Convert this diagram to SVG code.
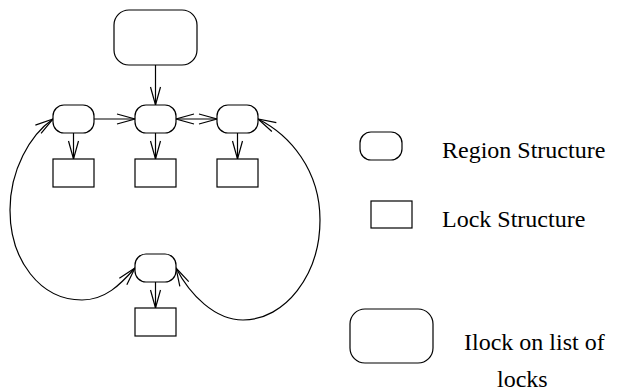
<svg xmlns="http://www.w3.org/2000/svg" width="619" height="392" viewBox="0 0 619 392">
<style>
.n{fill:#fff;stroke:#000;stroke-width:1.2}
.c{fill:none;stroke:#000;stroke-width:1.2}
.t{font-family:"Liberation Serif","Times New Roman",serif;font-size:24px;fill:#000}
</style>
<defs>
<marker id="a" markerUnits="userSpaceOnUse" markerWidth="22" markerHeight="14" refX="18" refY="5" orient="auto" overflow="visible">
<path d="M0,0 L18,5 L0,10" fill="none" stroke="#000" stroke-width="1.2"/>
</marker>
<marker id="as" markerUnits="userSpaceOnUse" markerWidth="22" markerHeight="14" refX="0" refY="5" orient="auto" overflow="visible">
<path d="M18,0 L0,5 L18,10" fill="none" stroke="#000" stroke-width="1.2"/>
</marker>
</defs>
<rect width="619" height="392" fill="#fff"/>
<g id="connectors">
<path class="c" d="M155.5,65 L155.5,105" marker-end="url(#a)"/>
<path class="c" d="M94,119 L135,119" marker-end="url(#a)"/>
<path class="c" d="M176,119 L217,119" marker-start="url(#as)" marker-end="url(#a)"/>
<path class="c" d="M73.5,133 L73.5,159" marker-end="url(#a)"/>
<path class="c" d="M155.5,133 L155.5,159" marker-end="url(#a)"/>
<path class="c" d="M237.5,133 L237.5,159" marker-end="url(#a)"/>
<path class="c" d="M155.5,282 L155.5,308" marker-end="url(#a)"/>
<path class="c" d="M53,119 C30,135 10,170 10,210 C10,260 40,300 82,300 C105,300 120,285 135,268" marker-start="url(#as)" marker-end="url(#a)"/>
<path class="c" d="M258,119 C290,135 320,170 320,220 C320,275 285,320 243,320 C215,320 190,295 176,268" marker-start="url(#as)" marker-end="url(#a)"/>
</g>
<g id="ilock"><rect class="n" x="114" y="10" width="83" height="55" rx="15"/></g>
<g id="region1"><rect class="n" x="53" y="105" width="41" height="28" rx="11"/></g>
<g id="region2"><rect class="n" x="135" y="105" width="41" height="28" rx="11"/></g>
<g id="region3"><rect class="n" x="217" y="105" width="41" height="28" rx="11"/></g>
<g id="region4"><rect class="n" x="135" y="254" width="41" height="28" rx="11"/></g>
<g id="lock1"><rect class="n" x="53" y="159" width="41" height="28"/></g>
<g id="lock2"><rect class="n" x="135" y="159" width="41" height="28"/></g>
<g id="lock3"><rect class="n" x="217" y="159" width="41" height="28"/></g>
<g id="lock4"><rect class="n" x="135" y="308" width="41" height="28"/></g>
<g id="legend">
<rect class="n" x="360" y="132" width="42" height="28" rx="11"/>
<text class="t" x="442" y="158">Region Structure</text>
<rect class="n" x="371" y="201" width="41" height="27"/>
<text class="t" x="442" y="227">Lock Structure</text>
<rect class="n" x="350" y="309" width="83" height="54" rx="15"/>
<text class="t" x="464" y="350">Ilock on list of</text>
<text class="t" x="497" y="387">locks</text>
</g>
</svg>
